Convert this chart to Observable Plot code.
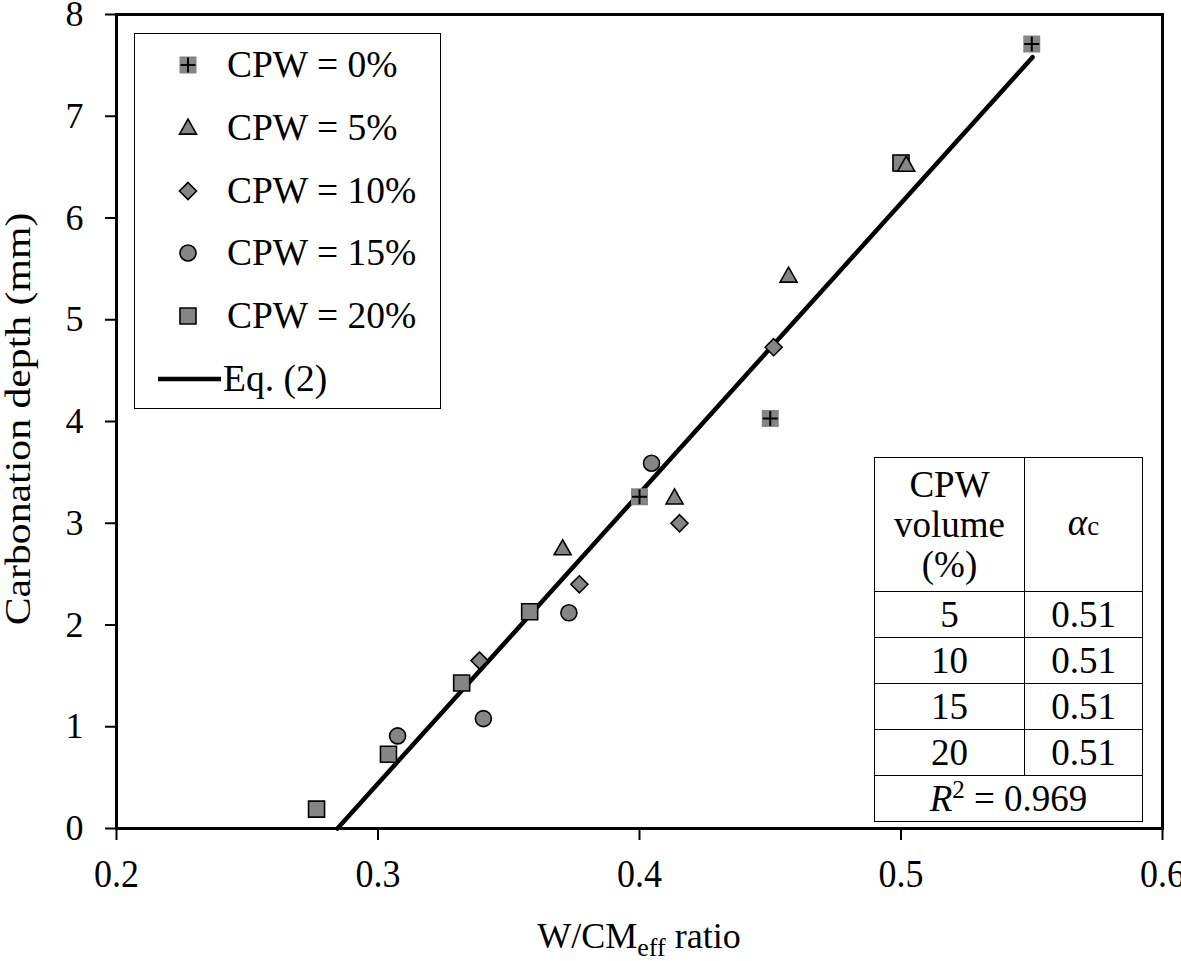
<!DOCTYPE html>
<html>
<head>
<meta charset="utf-8">
<script src="https://cdn.jsdelivr.net/npm/d3@7"></script>
<script src="https://cdn.jsdelivr.net/npm/@observablehq/plot@0.6"></script>
<style>
  html, body { margin: 0; padding: 0; background: #fff; }
  #wrap { position: relative; width: 1181px; height: 961px; font-family: "Liberation Serif", "DejaVu Serif", serif; }
  #wrap svg text { font-family: "Liberation Serif", "DejaVu Serif", serif; }
  #legend { position: absolute; left: 134px; top: 33px; width: 305px; height: 374px; border: 1.5px solid #000; background: #fff; }
  .lrow { position: absolute; left: 0; height: 50px; font-size: 37.5px; }
  .lrow svg { position: absolute; left: 0; top: 0; }
  .lrow span { position: absolute; left: 92px; white-space: nowrap; line-height: 50px; top: 0; }
  #tbl { position: absolute; left: 874px; top: 457px; border-collapse: collapse; font-size: 37px; background: #fff; }
  #tbl td { border: 1.5px solid #000; text-align: center; padding: 0; line-height: 44px; }
</style>
</head>
<body>
<div id="wrap"></div>
<script>
// ---- data ----
const cpw0x  = [0.550, 0.500, 0.450, 0.400];
const cpw0y  = [7.71, 6.54, 4.03, 3.26];
const cpw5x  = [0.502, 0.457, 0.4134, 0.3706];
const cpw5y  = [6.52, 5.43, 3.25, 2.75];
const cpw10x = [0.4513, 0.4153, 0.377, 0.3388];
const cpw10y = [4.73, 3.00, 2.40, 1.65];
const cpw15x = [0.4046, 0.373, 0.3403, 0.3075];
const cpw15y = [3.59, 2.12, 1.08, 0.91];
const cpw20x = [0.358, 0.332, 0.304, 0.2765, 0.500];
const cpw20y = [2.13, 1.43, 0.73, 0.19, 6.54];
const eqX = [0.2845, 0.5503];
const eqY = [0, 7.58];
const xTicks = [0.2, 0.3, 0.4, 0.5, 0.6];
const yTicks = [0, 1, 2, 3, 4, 5, 6, 7, 8];
const legendLabels = ["CPW = 0%", "CPW = 5%", "CPW = 10%", "CPW = 15%", "CPW = 20%", "Eq. (2)"];
const tblVolumes = ["5", "10", "15", "20"];
const tblAlpha = ["0.51", "0.51", "0.51", "0.51"];
const r2Text = "0.969";

const pts = (xs, ys) => xs.map((x, i) => ({x, y: ys[i]}));
const GRAY = "#858585";
const FONT = '"Liberation Serif", "DejaVu Serif", serif';

// custom symbols (size = pi r^2)
const rad = s => Math.sqrt(s / Math.PI);
const symSquare = {draw(c, s) { const r = rad(s); c.rect(-r, -r, 2 * r, 2 * r); }};
const symCircle = {draw(c, s) { const r = rad(s); c.moveTo(r, 0); c.arc(0, 0, r, 0, 2 * Math.PI); }};
const symTri = {draw(c, s) { const r = rad(s); c.moveTo(0, -r * 1.05); c.lineTo(r, r * 0.72); c.lineTo(-r, r * 0.72); c.closePath(); }};
const symDia = {draw(c, s) { const r = rad(s); c.moveTo(0, -r); c.lineTo(r, 0); c.lineTo(0, r); c.lineTo(-r, 0); c.closePath(); }};
const symPlus = {draw(c, s) { const r = rad(s); c.moveTo(-r, 0); c.lineTo(r, 0); c.moveTo(0, -r); c.lineTo(0, r); }};

const plot = Plot.plot({
  width: 1181,
  height: 961,
  marginTop: 14,
  marginBottom: 133,
  marginLeft: 116,
  marginRight: 19,
  style: {fontFamily: FONT, fontSize: "36px", color: "#000", background: "#fff", overflow: "visible"},
  x: {domain: [0.2, 0.6]},
  y: {domain: [0, 8]},
  marks: [
    Plot.axisX({ticks: xTicks, tickFormat: d => String(d), tickSize: 12, tickPadding: 18, strokeWidth: 2, label: null}),
    Plot.axisY({ticks: yTicks, tickFormat: d => String(d), tickSize: 11, tickPadding: 22, strokeWidth: 2, label: null}),
    Plot.line(pts(eqX, eqY), {x: "x", y: "y", stroke: "#000", strokeWidth: 4.5}),
    Plot.dot(pts(cpw0x, cpw0y), {x: "x", y: "y", symbol: symSquare, r: 8.5, fill: GRAY, stroke: "none"}),
    Plot.dot(pts(cpw0x, cpw0y), {x: "x", y: "y", symbol: symPlus, r: 7.5, fill: "none", stroke: "#000", strokeWidth: 2}),
    Plot.dot(pts(cpw20x, cpw20y), {x: "x", y: "y", symbol: symSquare, r: 8, fill: GRAY, stroke: "#000", strokeWidth: 1.6}),
    Plot.dot(pts(cpw5x, cpw5y), {x: "x", y: "y", symbol: symTri, r: 8.5, fill: GRAY, stroke: "#000", strokeWidth: 1.6}),
    Plot.dot(pts(cpw10x, cpw10y), {x: "x", y: "y", symbol: symDia, r: 8.5, fill: GRAY, stroke: "#000", strokeWidth: 1.6}),
    Plot.dot(pts(cpw15x, cpw15y), {x: "x", y: "y", symbol: symCircle, r: 8, fill: GRAY, stroke: "#000", strokeWidth: 1.6}),
    Plot.frame({stroke: "#000", strokeWidth: 3})
  ]
});

const wrap = document.getElementById("wrap");
wrap.appendChild(plot);

const svg = d3.select(plot);
// slightly taller x tick labels, as in the reference
svg.selectAll('g[aria-label="x-axis tick label"] text').each(function () {
  const t = d3.select(this);
  const tr = t.attr("transform") || "";
  t.attr("transform", tr + " scale(1,1.12)");
});

// axis titles with sub/superscripts
const xl = svg.append("text")
  .attr("x", 116 + (1162 - 116) / 2).attr("y", 948)
  .attr("text-anchor", "middle").attr("font-size", 36).attr("fill", "#000");
xl.append("tspan").text("W/CM");
xl.append("tspan").attr("font-size", 26).attr("dy", 8).text("eff");
xl.append("tspan").attr("dy", -8).text(" ratio");
svg.append("text")
  .attr("transform", `translate(30, ${14 + (828 - 14) / 2 - 2}) rotate(-90) scale(1.16,1)`)
  .attr("text-anchor", "middle").attr("font-size", 36).attr("fill", "#000")
  .text("Carbonation depth (mm)");

// legend
const legend = document.createElement("div");
legend.id = "legend";
wrap.appendChild(legend);
const legSyms = [
  [{sym: symSquare, r: 8.5, fill: GRAY, stroke: "none"}, {sym: symPlus, r: 7.5, fill: "none", stroke: "#000", sw: 2}],
  [{sym: symTri, r: 8.5, fill: GRAY, stroke: "#000", sw: 1.6}],
  [{sym: symDia, r: 8.5, fill: GRAY, stroke: "#000", sw: 1.6}],
  [{sym: symCircle, r: 8, fill: GRAY, stroke: "#000", sw: 1.6}],
  [{sym: symSquare, r: 8, fill: GRAY, stroke: "#000", sw: 1.6}],
  null
];
legendLabels.forEach((lab, i) => {
  const row = document.createElement("div");
  row.className = "lrow";
  row.style.top = (31 - 25 + i * 62.8) + "px";
  row.style.width = "300px";
  const s = d3.create("svg").attr("width", 90).attr("height", 50);
  if (legSyms[i]) {
    legSyms[i].forEach(d => {
      s.append("path").attr("transform", "translate(53,25)")
        .attr("d", d3.symbol(d.sym, Math.PI * d.r * d.r)())
        .attr("fill", d.fill).attr("stroke", d.stroke).attr("stroke-width", d.sw || 0);
    });
  } else {
    s.append("line").attr("x1", 23).attr("x2", 86).attr("y1", 25).attr("y2", 25)
      .attr("stroke", "#000").attr("stroke-width", 4.5);
  }
  row.appendChild(s.node());
  const sp = document.createElement("span");
  sp.textContent = lab;
  if (!legSyms[i]) sp.style.left = "88px";
  row.appendChild(sp);
  legend.appendChild(row);
});

// table
const tbl = document.createElement("table");
tbl.id = "tbl";
let html = `<tr><td style="width:149px;height:133px;line-height:40px">CPW<br>volume<br>(%)</td><td style="width:117px"><i>α</i><span style="font-size:27px">c</span></td></tr>`;
tblVolumes.forEach((v, i) => {
  html += `<tr><td style="height:45px">${v}</td><td>${tblAlpha[i]}</td></tr>`;
});
html += `<tr><td colspan="2" style="height:45px"><i>R</i><sup style="font-size:25px;line-height:0">2</sup> = ${r2Text}</td></tr>`;
tbl.innerHTML = html;
wrap.appendChild(tbl);
</script>
</body>
</html>
